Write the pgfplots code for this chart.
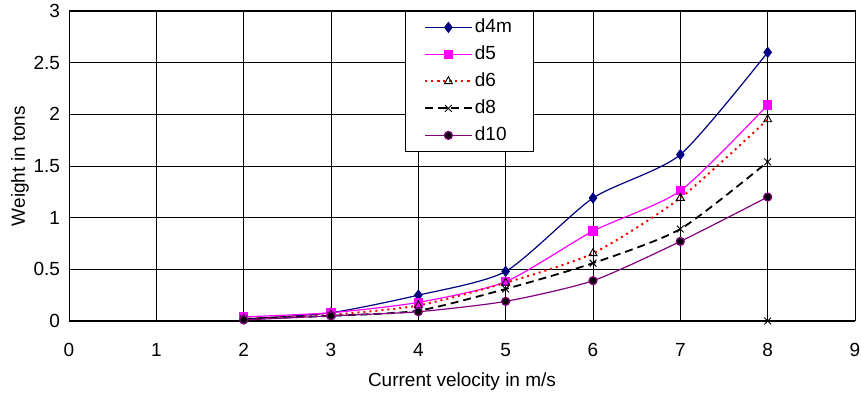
\documentclass[border=0pt]{standalone}
\usepackage{pgfplots}
\pgfplotsset{compat=1.18}
\usepackage{fontspec}
\setmainfont{Liberation Sans}
\definecolor{navyc}{RGB}{0,0,128}
\definecolor{purp}{RGB}{128,0,128}
\definecolor{mag}{RGB}{255,0,255}
\newcommand\f{\fontsize{9.5}{11}\selectfont}
\begin{document}
\begin{tikzpicture}
\begin{axis}[
  scale only axis, width=393pt, height=155pt,
  xmin=0, xmax=9, ymin=0, ymax=3,
  xtick={0,1,...,9}, ytick={0,0.5,...,3},
  yticklabels={0,0.5,1,1.5,2,2.5,3},
  /pgf/number format/assume math mode=true,
  tick style={draw=none},
  grid=major, grid style={black, line width=0.4pt},
  axis line style={black, line width=0.5pt},
  ticklabel style={font=\f},
  xticklabel style={yshift=-7.5pt},
  yticklabel style={xshift=-1pt},
  xlabel={Current velocity in m/s}, xlabel style={font=\f, yshift=-1pt},
  ylabel={Weight in tons}, ylabel style={font=\f, yshift=-4.5pt},
  legend style={at={(0.4275,1.0)}, anchor=north west, font=\f, draw=black,
    row sep=4.5pt, inner xsep=9.5pt, inner ysep=3.5pt, cells={anchor=west},
    nodes={inner xsep=1.25pt, inner ysep=0pt, text height=7pt, text depth=2pt}},
  legend image code/.code={\draw[mark repeat=2,mark phase=2] plot coordinates {(0pt,0pt) (11.5pt,0pt) (23pt,0pt)};},
]
\path (rel axis cs:0,0) coordinate (O);
\addplot[navyc, line width=0.6pt, smooth, tension=0.4, mark=diamond*, mark size=2.4pt, mark options={fill=navyc, solid}]
  coordinates {(2,0.02) (3,0.08) (4,0.25) (5,0.48) (6,1.19) (7,1.61) (8,2.60)};
\addlegendentry{d4m}
\addplot[mag, line width=0.6pt, smooth, tension=0.4, mark=square*, mark size=2pt, mark options={fill=mag, solid}]
  coordinates {(2,0.04) (3,0.08) (4,0.18) (5,0.38) (6,0.87) (7,1.26) (8,2.09)};
\addlegendentry{d5}
\addplot[red, line width=1pt, dotted, smooth, tension=0.4, mark=triangle, mark size=2.3pt, mark options={black, solid, line width=0.45pt, fill=white}]
  coordinates {(2,0.02) (3,0.06) (4,0.15) (5,0.37) (6,0.655) (7,1.19) (8,1.95)};
\addlegendentry{d6}
\addplot[black, line width=0.9pt, dash pattern=on 4pt off 2.5pt, smooth, tension=0.4, mark=x, mark size=2.4pt, mark options={black, solid, line width=0.45pt}]
  coordinates {(2,0.02) (3,0.05) (4,0.10) (5,0.31) (6,0.56) (7,0.89) (8,1.54)};
\addlegendentry{d8}
\addplot[purp, line width=0.6pt, smooth, tension=0.4, mark=*, mark size=2pt, mark options={fill=black, draw=purp, solid}]
  coordinates {(2,0.01) (3,0.05) (4,0.09) (5,0.19) (6,0.39) (7,0.77) (8,1.20)};
\addlegendentry{d10}
\addplot[black, line width=0.9pt, dash pattern=on 4pt off 2.5pt, mark=x, mark size=2.4pt, mark indices={2}, mark options={solid, line width=0.45pt}, forget plot]
  coordinates {(2.4,0) (8,0)};
\end{axis}
\pgfresetboundingbox
\path[use as bounding box] (O) ++(-34.5pt,-36.5pt) rectangle ++(430.5pt,197pt);
\end{tikzpicture}
\end{document}
